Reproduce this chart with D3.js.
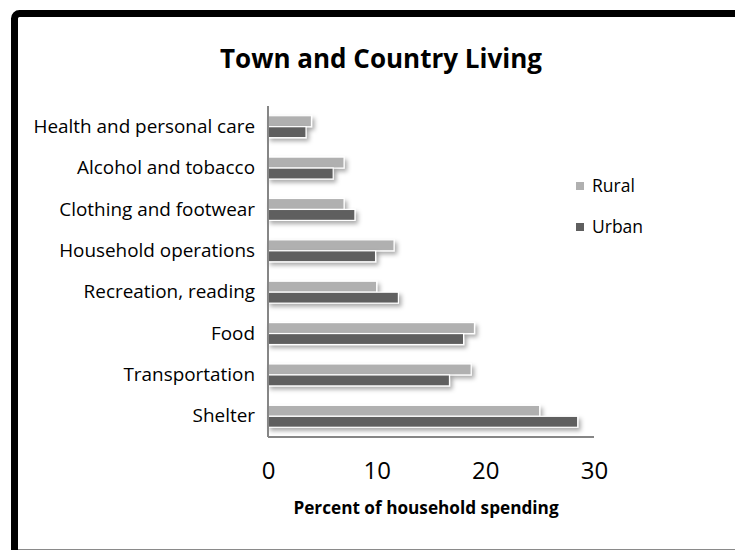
<!DOCTYPE html>
<html>
<head>
<meta charset="utf-8">
<script src="https://cdn.jsdelivr.net/npm/d3@7/dist/d3.min.js"></script>
<style>
  html, body { margin: 0; padding: 0; background: #fff; overflow: hidden; }
  svg { display: block; font-family: "Open Sans", "Liberation Sans", sans-serif; }
</style>
</head>
<body>
<svg id="chart" width="735" height="550"></svg>
<script>
// Spending categories, listed top to bottom
const categories = [
  "Health and personal care",
  "Alcohol and tobacco",
  "Clothing and footwear",
  "Household operations",
  "Recreation, reading",
  "Food",
  "Transportation",
  "Shelter"
];
const seriesNames = ["Rural", "Urban"];
const ruralValues = [4, 7, 7, 11.6, 10, 19, 18.7, 25];
const urbanValues = [3.5, 6, 8, 9.9, 12, 18, 16.7, 28.5];
const xTicks = [0, 10, 20, 30];
const seriesColors = ["#b0b0b0", "#5f5f5f"];

const svg = d3.select("#chart");

// Outer frame: heavy rounded border, running off the right and bottom edges
svg.append("rect")
  .attr("x", 14.5).attr("y", 13.5)
  .attr("width", 900).attr("height", 700)
  .attr("rx", 5)
  .attr("fill", "#fff")
  .attr("stroke", "#000")
  .attr("stroke-width", 7);
svg.append("line")
  .attr("x1", 18).attr("x2", 735)
  .attr("y1", 549.5).attr("y2", 549.5)
  .attr("stroke", "#8a8a8a").attr("stroke-width", 1);

// Soft drop shadow for the bars
const defs = svg.append("defs");
const f = defs.append("filter").attr("id", "shadow")
  .attr("x", "-10%").attr("y", "-60%").attr("width", "130%").attr("height", "240%");
f.append("feDropShadow")
  .attr("dx", 2.5).attr("dy", 3)
  .attr("stdDeviation", 2)
  .attr("flood-color", "#000")
  .attr("flood-opacity", 0.33);

const plotLeft = 268, plotRight = 594, plotTop = 106, plotBottom = 437;

const x = d3.scaleLinear().domain([0, 30]).range([plotLeft, plotRight]);
const y0 = d3.scaleBand().domain(categories).range([plotTop, plotBottom])
  .paddingInner(0.47).paddingOuter(0.235);
const y1 = d3.scaleBand().domain(seriesNames).range([0, y0.bandwidth()]);
const color = d3.scaleOrdinal().domain(seriesNames).range(seriesColors);

const rows = categories.map((c, i) => ({
  category: c,
  values: [
    { series: "Rural", value: ruralValues[i] },
    { series: "Urban", value: urbanValues[i] }
  ]
}));

// Title
svg.append("text")
  .attr("x", 381).attr("y", 68)
  .attr("text-anchor", "middle")
  .attr("font-size", 26).attr("font-weight", 700)
  .attr("fill", "#000")
  .text("Town and Country Living");

// Bars
const groups = svg.append("g").selectAll("g")
  .data(rows).join("g")
  .attr("transform", d => `translate(0,${y0(d.category)})`);

groups.selectAll("rect")
  .data(d => d.values).join("rect")
  .attr("x", x(0))
  .attr("y", d => y1(d.series))
  .attr("width", d => x(d.value) - x(0))
  .attr("height", y1.bandwidth())
  .attr("fill", d => color(d.series))
  .attr("stroke", "#fff")
  .attr("stroke-width", 1.2)
  .attr("filter", "url(#shadow)");

// Category axis
const yAxis = svg.append("g")
  .attr("transform", `translate(${plotLeft},0)`)
  .call(d3.axisLeft(y0).tickSize(0).tickPadding(13));
yAxis.select(".domain").attr("stroke", "#868686").attr("stroke-width", 2)
  .attr("d", `M0,${plotTop}V${plotBottom}`);
yAxis.selectAll("text")
  .attr("font-family", "Open Sans, sans-serif")
  .attr("font-size", 18.9).attr("fill", "#000");

// Value axis
const xAxis = svg.append("g")
  .attr("transform", `translate(0,${plotBottom})`)
  .call(d3.axisBottom(x).tickValues(xTicks).tickSize(0).tickPadding(25));
xAxis.select(".domain").attr("stroke", "#868686").attr("stroke-width", 2)
  .attr("d", `M${plotLeft},0H${plotRight}`);
xAxis.selectAll("text")
  .attr("font-family", "Open Sans, sans-serif")
  .attr("font-size", 24).attr("fill", "#000");

// Axis title
svg.append("text")
  .attr("x", 426).attr("y", 514)
  .attr("text-anchor", "middle")
  .attr("font-size", 17.2).attr("font-weight", 700)
  .attr("fill", "#000")
  .text("Percent of household spending");

// Legend
const legend = svg.append("g").selectAll("g")
  .data(seriesNames).join("g")
  .attr("transform", (d, i) => `translate(576,${182 + i * 41})`);
legend.append("rect")
  .attr("width", 8).attr("height", 8)
  .attr("fill", d => color(d));
legend.append("text")
  .attr("x", 16).attr("y", 4)
  .attr("dy", "0.35em")
  .attr("font-size", 17.5).attr("fill", "#000")
  .text(d => d);
</script>
</body>
</html>
